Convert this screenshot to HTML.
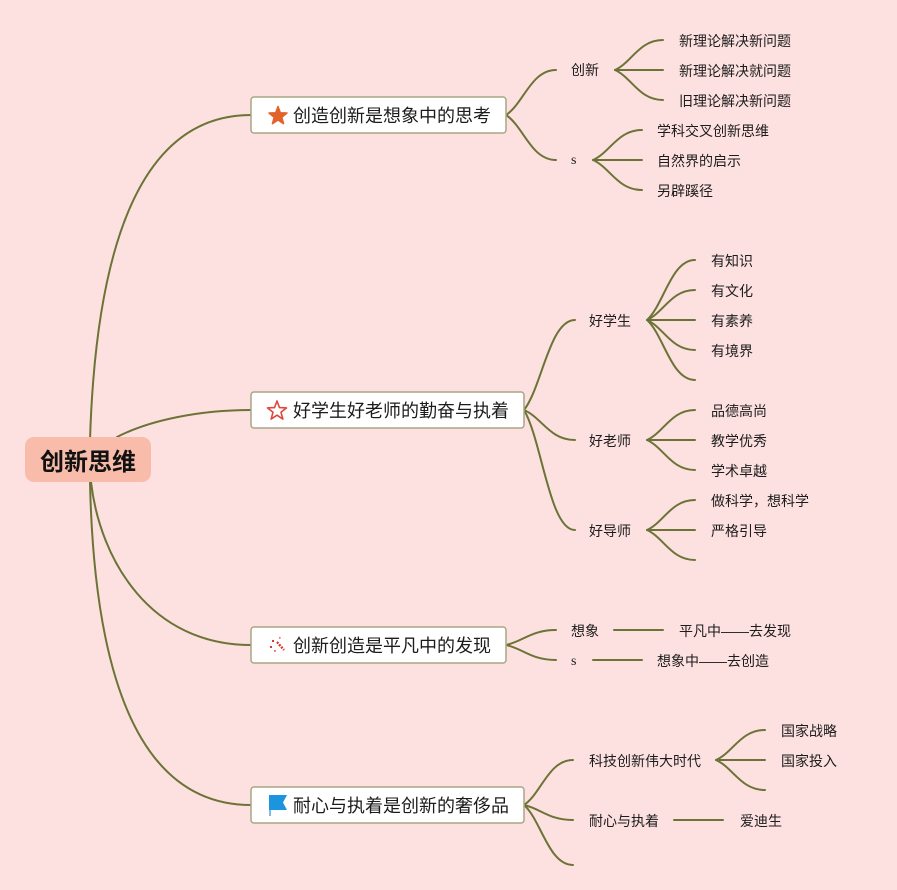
<!DOCTYPE html>
<html>
<head>
<meta charset="utf-8">
<style>
  html,body{margin:0;padding:0;background:#fde1e0;}
  body{width:897px;height:890px;overflow:hidden;}
  svg{display:block;}
  text{font-family:"Liberation Sans","Noto Sans CJK SC",sans-serif;fill:#1c1c1c;}
  .c{font-size:14px;}
  .b{font-size:18px;}
  .s{font-family:"Liberation Serif","Noto Serif CJK SC",serif;font-size:14px;}
</style>
</head>
<body>
<svg width="897" height="890" viewBox="0 0 897 890" xmlns="http://www.w3.org/2000/svg">
  <rect x="0" y="0" width="897" height="890" fill="#fde1e0"/>
  <g fill="none" stroke="#6c7336" stroke-width="2" stroke-linecap="round">
    <!-- root connectors -->
    <path d="M90,440 Q100,115 251,115"/>
    <path d="M117,437 C150,420 200,410 251,410"/>
    <path d="M91,482 C100,560 150,645 251,645"/>
    <path d="M90,482 Q97,805 251,805"/>

    <!-- branch 1 -->
    <path d="M506,115 C523.5,103.75 531,70 556,70"/>
    <path d="M506,115 C523.5,126.25 531,160 556,160"/>
    <path d="M615,70 C631.8,62.5 639,40 663,40"/>
    <path d="M615,70 L663,70"/>
    <path d="M615,70 C631.8,77.5 639,100 663,100"/>
    <path d="M593,160 C610.15,152.5 617.5,130 642,130"/>
    <path d="M593,160 L642,160"/>
    <path d="M593,160 C610.15,167.5 617.5,190 642,190"/>

    <!-- branch 2 -->
    <path d="M524,410 C541.85,387.5 549.5,320 575,320"/>
    <path d="M524,410 C541.85,417.5 549.5,440 575,440"/>
    <path d="M524,410 C541.85,440 549.5,530 575,530"/>
    <path d="M647,320 C663.8,305 671,260 695,260"/>
    <path d="M647,320 C663.8,312.5 671,290 695,290"/>
    <path d="M647,320 L695,320"/>
    <path d="M647,320 C663.8,327.5 671,350 695,350"/>
    <path d="M647,320 C663.8,335 671,380 695,380"/>
    <path d="M647,440 C663.8,432.5 671,410 695,410"/>
    <path d="M647,440 L695,440"/>
    <path d="M647,440 C663.8,447.5 671,470 695,470"/>
    <path d="M647,530 C663.8,522.5 671,500 695,500"/>
    <path d="M647,530 L695,530"/>
    <path d="M647,530 C663.8,537.5 671,560 695,560"/>

    <!-- branch 3 -->
    <path d="M506,645 C523.5,641.25 531,630 556,630"/>
    <path d="M506,645 C523.5,648.75 531,660 556,660"/>
    <path d="M614,630 L663,630"/>
    <path d="M593,660 L642,660"/>

    <!-- branch 4 -->
    <path d="M524,805 C541.15,793.75 548.5,760 573,760"/>
    <path d="M524,805 C541.15,808.75 548.5,820 573,820"/>
    <path d="M524,805 C541.15,820 548.5,865 573,865"/>
    <path d="M716,760 C733.15,752.5 740.5,730 765,730"/>
    <path d="M716,760 L765,760"/>
    <path d="M716,760 C733.15,767.5 740.5,790 765,790"/>
    <path d="M674,820 L723,820"/>
  </g>

  <!-- root -->
  <rect x="25" y="437" width="126" height="45" rx="9" ry="9" fill="#f9bcaa"/>
  <text x="88" y="470" text-anchor="middle" style="font-size:24px;font-weight:bold;fill:#111;">创新思维</text>

  <!-- branch boxes -->
  <g fill="#ffffff" stroke="#a9a683" stroke-width="1.5">
    <rect x="251" y="97" width="255" height="36" rx="3"/>
    <rect x="251" y="392" width="273" height="36" rx="3"/>
    <rect x="251" y="627" width="255" height="36" rx="3"/>
    <rect x="251" y="787" width="273" height="36" rx="3"/>
  </g>

  <!-- icons -->
  <polygon transform="translate(278,116)" points="0,-9.5 2.35,-3.24 9.03,-2.94 3.8,1.24 5.58,7.69 0,4 -5.58,7.69 -3.8,1.24 -9.03,-2.94 -2.35,-3.24" fill="#e2622b" stroke="#e2622b" stroke-width="1.5" stroke-linejoin="round"/>
  <polygon transform="translate(277,411)" points="0,-10 2.47,-3.4 9.51,-3.09 4,1.3 5.88,8.09 0,4.2 -5.88,8.09 -4,1.3 -9.51,-3.09 -2.47,-3.4" fill="#ffffff" stroke="#e0463a" stroke-width="1.6" stroke-linejoin="round"/>
  <g>
    <line x1="277" y1="642" x2="284" y2="650" stroke="#d9382e" stroke-width="2.4" stroke-dasharray="2 1.2"/>
    <rect x="272" y="640" width="2" height="2" fill="#d9382e"/>
    <rect x="270" y="646" width="2" height="2" fill="#d9382e"/>
    <rect x="274" y="650" width="1.8" height="1.8" fill="#e56a5c"/>
    <rect x="279" y="637" width="1.6" height="1.6" fill="#e56a5c"/>
  </g>
  <g>
    <rect x="269" y="795" width="2" height="21" fill="#7fbde8"/>
    <polygon points="269,795 287,795 283,802.5 287,810 269,810" fill="#1d95de"/>
  </g>

  <!-- branch texts -->
  <text class="b" x="293" y="122">创造创新是想象中的思考</text>
  <text class="b" x="293" y="417">好学生好老师的勤奋与执着</text>
  <text class="b" x="293" y="652">创新创造是平凡中的发现</text>
  <text class="b" x="293" y="812">耐心与执着是创新的奢侈品</text>

  <!-- child texts -->
  <text class="c" x="571" y="75">创新</text>
  <text class="s" x="571" y="164">s</text>
  <text class="c" x="679" y="46">新理论解决新问题</text>
  <text class="c" x="679" y="76">新理论解决就问题</text>
  <text class="c" x="679" y="106">旧理论解决新问题</text>
  <text class="c" x="657" y="136">学科交叉创新思维</text>
  <text class="c" x="657" y="166">自然界的启示</text>
  <text class="c" x="657" y="196">另辟蹊径</text>

  <text class="c" x="589" y="326">好学生</text>
  <text class="c" x="711" y="266">有知识</text>
  <text class="c" x="711" y="296">有文化</text>
  <text class="c" x="711" y="326">有素养</text>
  <text class="c" x="711" y="356">有境界</text>
  <text class="c" x="589" y="446">好老师</text>
  <text class="c" x="711" y="416">品德高尚</text>
  <text class="c" x="711" y="446">教学优秀</text>
  <text class="c" x="711" y="476">学术卓越</text>
  <text class="c" x="589" y="536">好导师</text>
  <text class="c" x="711" y="506">做科学，想科学</text>
  <text class="c" x="711" y="536">严格引导</text>

  <text class="c" x="571" y="636">想象</text>
  <text class="c" x="679" y="636">平凡中——去发现</text>
  <text class="s" x="571" y="665">s</text>
  <text class="c" x="657" y="666">想象中——去创造</text>

  <text class="c" x="589" y="766">科技创新伟大时代</text>
  <text class="c" x="781" y="736">国家战略</text>
  <text class="c" x="781" y="766">国家投入</text>
  <text class="c" x="589" y="826">耐心与执着</text>
  <text class="c" x="740" y="826">爱迪生</text>
</svg>
</body>
</html>
